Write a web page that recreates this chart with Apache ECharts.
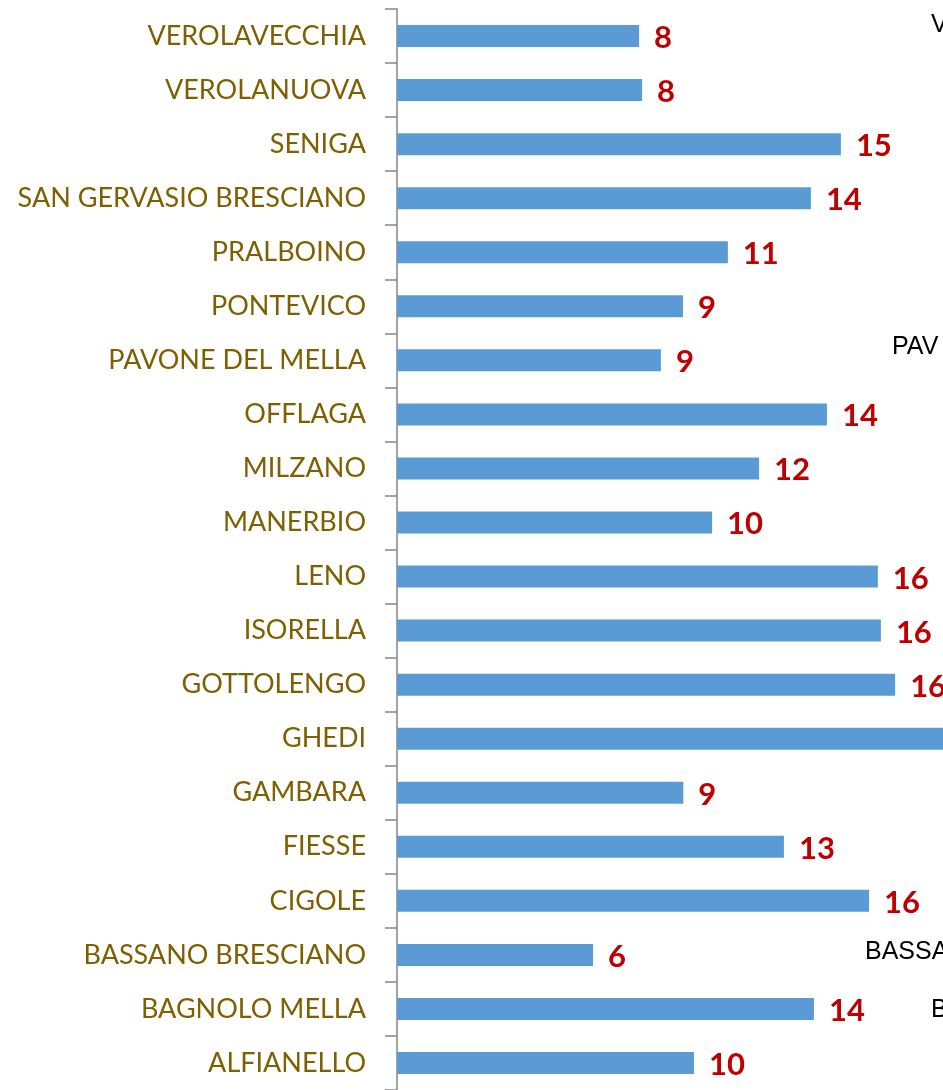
<!DOCTYPE html>
<html>
<head>
<meta charset="utf-8">
<script src="https://cdn.jsdelivr.net/npm/echarts@6/dist/echarts.min.js"></script>
<style>
  html, body { margin: 0; padding: 0; background: #fff; }
  #chart { width: 943px; height: 1090px; }
</style>
</head>
<body>
<div id="chart"></div>
<script>
// comuni, bottom to top
var comuni = [
  'ALFIANELLO', 'BAGNOLO MELLA', 'BASSANO BRESCIANO', 'CIGOLE', 'FIESSE',
  'GAMBARA', 'GHEDI', 'GOTTOLENGO', 'ISORELLA', 'LENO', 'MANERBIO',
  'MILZANO', 'OFFLAGA', 'PAVONE DEL MELLA', 'PONTEVICO', 'PRALBOINO',
  'SAN GERVASIO BRESCIANO', 'SENIGA', 'VEROLANUOVA', 'VEROLAVECCHIA'
]
var valori = [
  9.8, 13.76, 6.47, 15.58, 12.77,
  9.45, 20, 16.44, 15.97, 15.87, 10.4,
  11.95, 14.19, 8.71, 9.44, 10.92,
  13.66, 14.65, 8.09, 7.99
]
// pieces of a neighbouring chart that show at the right edge
var testiTagliati = [
  { text: 'V', x: 931, y: 38 },
  { text: 'PAV', x: 892, y: 360 },
  { text: 'BASSA', x: 865, y: 965 },
  { text: 'B', x: 931, y: 1023 }
]

var chart = echarts.init(document.getElementById('chart'))
var option = {
  animation: false,
  grid: { left: 397, top: 9, right: 0, height: 1084 },
  xAxis: {
    type: 'value',
    min: 0,
    max: 18.02,
    show: false
  },
  yAxis: {
    type: 'category',
    data: comuni,
    axisLine: { show: true, lineStyle: { color: '#868686', width: 1.5 } },
    axisTick: { show: true, length: 12, lineStyle: { color: '#868686', width: 1.5 } },
    axisLabel: {
      margin: 31,
      color: '#7F6000',
      fontFamily: 'Lato',
      fontSize: 27
    }
  },
  graphic: testiTagliati.map(function (t) {
    return {
      type: 'text',
      x: t.x,
      y: t.y,
      style: {
        text: t.text,
        fill: '#000',
        font: '25px "Liberation Sans"',
        textVerticalAlign: 'bottom'
      }
    }
  }),
  series: [{
    type: 'bar',
    data: valori,
    barWidth: 22,
    itemStyle: { color: '#5B9BD5' },
    label: {
      show: true,
      position: 'right',
      distance: 15,
      offset: [0, 2],
      color: '#C00000',
      fontFamily: 'Lato',
      fontWeight: 'bold',
      fontSize: 31,
      formatter: function (p) { return Math.round(p.value) }
    }
  }]
}
chart.setOption(option)
</script>
</body>
</html>
